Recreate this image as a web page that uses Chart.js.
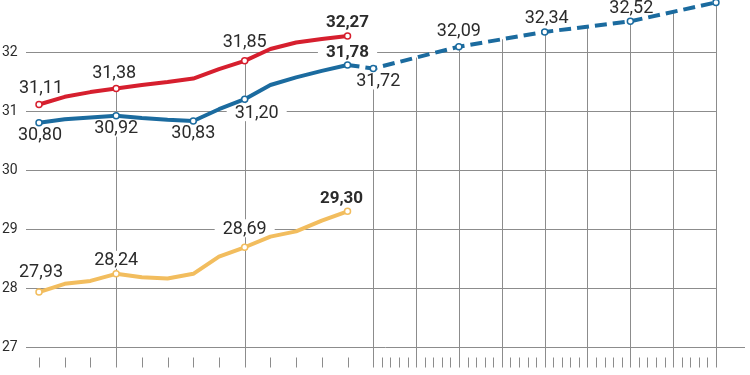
<!DOCTYPE html>
<html>
<head>
<meta charset="utf-8">
<script src="https://cdn.jsdelivr.net/npm/chart.js@4/dist/chart.umd.min.js"></script>
<style>
  html, body { margin: 0; background: #fff; }
  #wrap { position: relative; width: 750px; height: 375px; }
</style>
</head>
<body>
<div id="wrap"><canvas id="chart"></canvas></div>
<script>
// x positions: one step per period on the left, forecast periods on the right
const steps = [0, 1, 2, 3, 4, 5, 6, 7, 8, 9, 10, 11, 12];
const redValues = [31.11, 31.24, 31.32, 31.38, 31.44, 31.49, 31.55, 31.71, 31.85, 32.05, 32.16, 32.22, 32.27];
const blueValues = [30.80, 30.86, 30.89, 30.92, 30.88, 30.85, 30.83, 31.03, 31.20, 31.44, 31.57, 31.68, 31.78];
const yellowValues = [27.93, 28.07, 28.12, 28.24, 28.18, 28.16, 28.24, 28.53, 28.69, 28.87, 28.96, 29.14, 29.30];
const forecastSteps = [12, 13, 16.33, 19.67, 23, 26.33];
const forecastValues = [31.78, 31.72, 32.09, 32.34, 32.52, 32.84];
const yTicks = [27, 28, 29, 30, 31, 32];
const majorSteps = [3, 8, 13, 14.67, 16.33, 18, 19.67, 21.33, 23, 24.67, 26.33];

const RED = "#d61f2e", BLUE = "#1b6b9f", YELLOW = "#f2bd5e";
const GRID = "#8c8c8c", TEXT = "#2b2b2b";

// which points get a value label, and where it sits relative to the point
const labelSpecs = [
  { ds: 0, i: 0, dx: 2, dy: -17 },
  { ds: 0, i: 3, dx: -2, dy: -16 },
  { ds: 0, i: 8, dx: 0, dy: -19 },
  { ds: 0, i: 12, dx: 0, dy: -14, bold: true },
  { ds: 1, i: 0, dx: 1, dy: 12 },
  { ds: 1, i: 3, dx: 0, dy: 12 },
  { ds: 1, i: 6, dx: 0, dy: 11 },
  { ds: 1, i: 8, dx: 12, dy: 13 },
  { ds: 1, i: 12, dx: 0, dy: -13, bold: true },
  { ds: 2, i: 1, dx: 5, dy: 12 },
  { ds: 2, i: 2, dx: 0, dy: -16 },
  { ds: 2, i: 3, dx: 2, dy: -14 },
  { ds: 2, i: 4, dx: 1, dy: -14 },
  { ds: 2, i: 5, dx: 0, dy: -14 },
  { ds: 3, i: 0, dx: 2, dy: -21 },
  { ds: 3, i: 3, dx: 0, dy: -14 },
  { ds: 3, i: 8, dx: 0, dy: -19 },
  { ds: 3, i: 12, dx: -6, dy: -14, bold: true }
];

const toPoints = (xs, ys) => xs.map((x, i) => ({ x, y: ys[i] }));
const radii = (ds, n) => {
  const r = new Array(n).fill(0);
  labelSpecs.filter(s => s.ds === ds).forEach(s => (r[s.i] = 3));
  return r;
};
const fmt = v => v.toFixed(2).replace(".", ",");
const labelFont = b => (b ? "bold 17px Roboto" : "18px Roboto");

function labelBoxes(chart) {
  const ctx = chart.ctx;
  return labelSpecs.map(s => {
    const el = chart.getDatasetMeta(s.ds).data[s.i];
    const v = chart.data.datasets[s.ds].data[s.i].y;
    ctx.font = labelFont(s.bold);
    const text = fmt(v);
    const w = ctx.measureText(text).width;
    return { text, bold: s.bold, cx: el.x + s.dx, cy: el.y + s.dy, w };
  });
}

// y of the highest line at a given x, from the drawn elements
function topLineY(chart, xv) {
  const px = chart.scales.x.getPixelForValue(xv);
  let best = null;
  chart.data.datasets.forEach((d, di) => {
    const pts = chart.getDatasetMeta(di).data;
    for (let k = 0; k < pts.length - 1; k++) {
      const a = pts[k], b = pts[k + 1];
      if (px >= a.x - 0.5 && px <= b.x + 0.5) {
        const t = b.x === a.x ? 0 : (px - a.x) / (b.x - a.x);
        const py = a.y + (b.y - a.y) * Math.min(1, Math.max(0, t));
        if (best === null || py < best) best = py;
      }
    }
  });
  return best;
}

const decor = {
  id: "decor",
  beforeDatasetsDraw(chart) {
    const { ctx, scales: { x, y } } = chart;
    const right = x.getPixelForValue(forecastSteps[forecastSteps.length - 1]);
    const base = Math.round(y.getPixelForValue(yTicks[0])) + 0.5;
    ctx.save();
    ctx.strokeStyle = GRID;
    ctx.lineWidth = 1;
    // horizontal grid
    yTicks.forEach((v, k) => {
      const py = Math.round(y.getPixelForValue(v)) + 0.5;
      ctx.beginPath();
      ctx.moveTo(26, py);
      ctx.lineTo(k === 0 ? 745 : right, py);
      ctx.stroke();
    });
    // major verticals from the top line down through the axis
    majorSteps.forEach(s => {
      const px = Math.round(x.getPixelForValue(s)) + 0.5;
      const top = topLineY(chart, s);
      ctx.beginPath();
      ctx.moveTo(px, top === null ? base : top);
      ctx.lineTo(px, base + 20);
      ctx.stroke();
    });
    // minor ticks below the axis
    const minor = steps.filter(s => !majorSteps.includes(s));
    for (let k = 1; k < 40; k++) if (k % 5) minor.push(13 + k / 3);
    minor.forEach(s => {
      const px = Math.round(x.getPixelForValue(s)) + 0.5;
      ctx.beginPath();
      ctx.moveTo(px, base + 10);
      ctx.lineTo(px, base + 20);
      ctx.stroke();
    });
    // y labels
    ctx.fillStyle = TEXT;
    ctx.font = "14px Roboto";
    ctx.textAlign = "left";
    ctx.textBaseline = "middle";
    yTicks.forEach(v => ctx.fillText(String(v), 2, y.getPixelForValue(v) + 1));
    // white backing behind value labels
    ctx.fillStyle = "#fff";
    labelBoxes(chart).forEach(b => {
      ctx.fillRect(b.cx - b.w / 2 - 8, b.cy - 9, b.w + 16, 18);
    });
    ctx.restore();
  },
  afterDatasetsDraw(chart) {
    const ctx = chart.ctx;
    ctx.save();
    ctx.fillStyle = TEXT;
    ctx.textAlign = "center";
    ctx.textBaseline = "middle";
    labelBoxes(chart).forEach(b => {
      ctx.font = labelFont(b.bold);
      ctx.fillText(b.text, b.cx, b.cy + 1);
    });
    ctx.restore();
  }
};

const lineStyle = color => ({
  borderColor: color,
  borderWidth: 4,
  pointBackgroundColor: "#fff",
  pointBorderColor: color,
  pointBorderWidth: 1.5,
  tension: 0,
  borderJoinStyle: "round",
  clip: false
});

new Chart(document.getElementById("chart"), {
  type: "line",
  data: {
    datasets: [
      { ...lineStyle(RED), data: toPoints(steps, redValues), pointRadius: radii(0, steps.length) },
      { ...lineStyle(BLUE), data: toPoints(steps, blueValues), pointRadius: radii(1, steps.length) },
      { ...lineStyle(BLUE), borderDash: [12, 6], data: toPoints(forecastSteps, forecastValues),
        pointRadius: [0, 3, 3, 3, 3, 3] },
      { ...lineStyle(YELLOW), data: toPoints(steps, yellowValues), pointRadius: radii(3, steps.length) }
    ]
  },
  options: {
    responsive: true,
    maintainAspectRatio: false,
    animation: false,
    layout: { padding: 0, autoPadding: false },
    plugins: { legend: { display: false }, tooltip: { enabled: false } },
    scales: {
      x: { type: "linear", display: false, min: -1.517, max: 27.654 },
      y: { type: "linear", display: false, min: 26.525, max: 32.881 }
    }
  },
  plugins: [decor]
});
</script>
</body>
</html>
